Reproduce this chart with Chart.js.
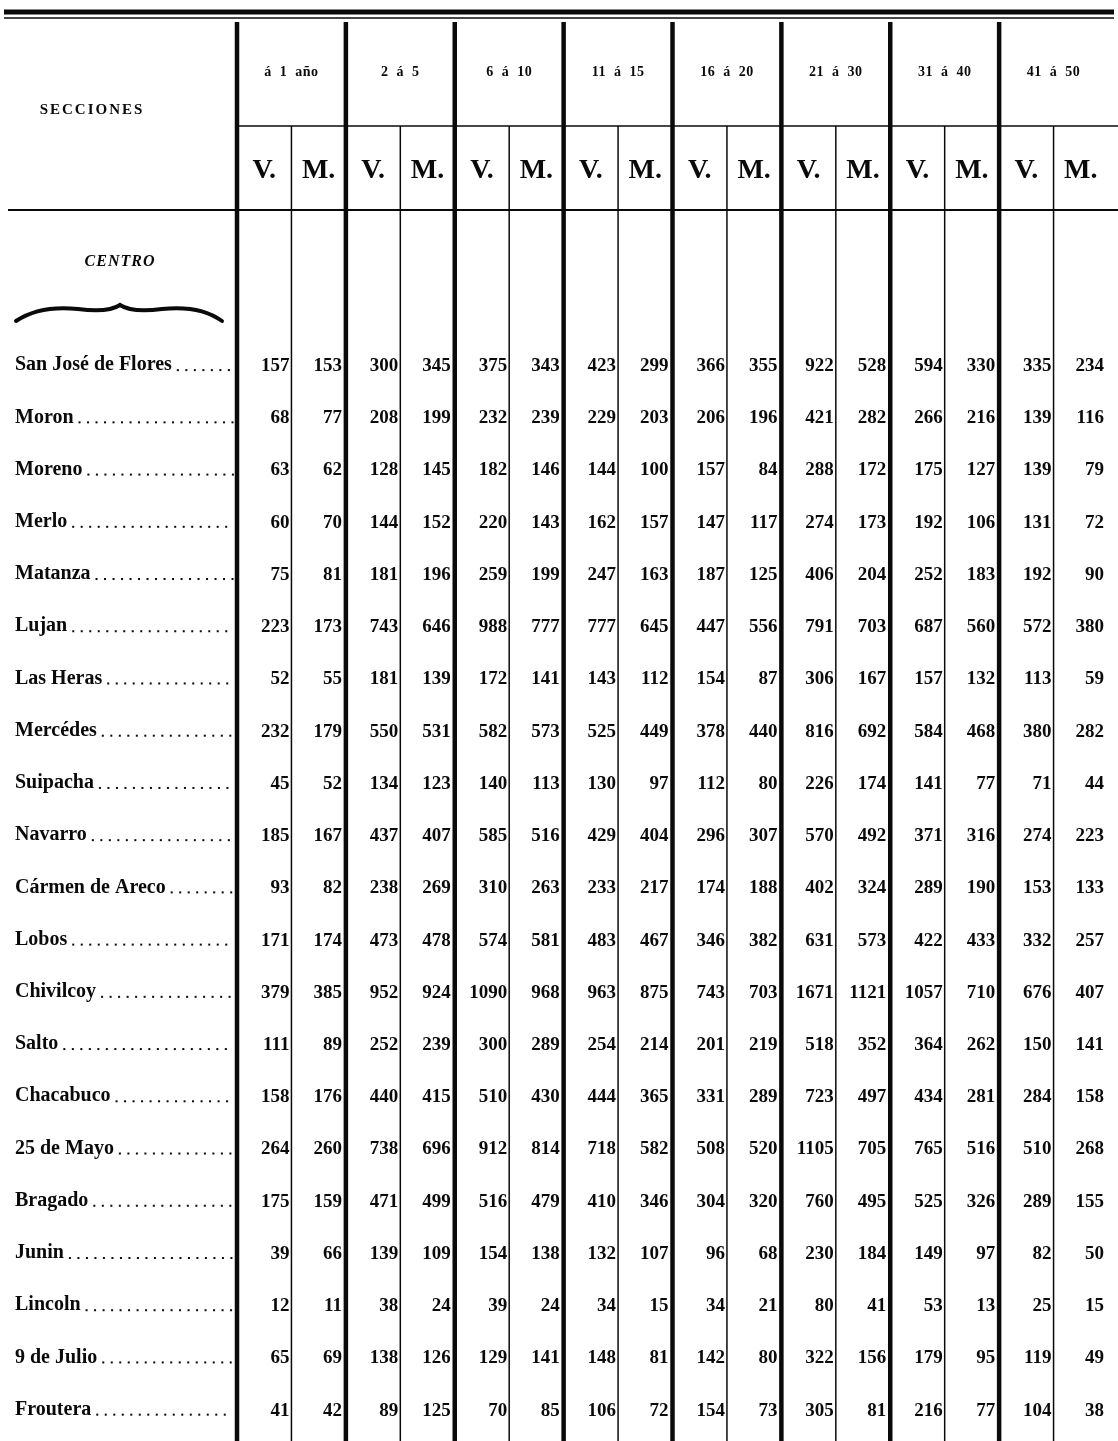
<!DOCTYPE html>
<html>
<head>
<meta charset="utf-8">
<script src="https://cdn.jsdelivr.net/npm/chart.js@4.4.1/dist/chart.umd.min.js"></script>
<style>
  html, body { margin: 0; padding: 0; background: #fff; }
  #wrap { width: 1118px; height: 1441px; position: relative; }
</style>
</head>
<body>
<div id="wrap"><canvas id="tabla"></canvas></div>
<script>
// Age groups (two columns each: V. = varones, M. = mujeres)
const edades = ['á 1 año', '2 á 5', '6 á 10', '11 á 15', '16 á 20', '21 á 30', '31 á 40', '41 á 50'];
const sexos = ['V.', 'M.'];
const grupo = 'CENTRO';

const secciones = [
    'San José de Flores', 'Moron', 'Moreno', 'Merlo', 'Matanza', 'Lujan', 'Las Heras',
    'Mercédes', 'Suipacha', 'Navarro', 'Cármen de Areco', 'Lobos', 'Chivilcoy', 'Salto',
    'Chacabuco', '25 de Mayo', 'Bragado', 'Junin', 'Lincoln', '9 de Julio', 'Froutera'
];

// one array per column, rows in the order of secciones
const e1V   = [157, 68, 63, 60, 75, 223, 52, 232, 45, 185, 93, 171, 379, 111, 158, 264, 175, 39, 12, 65, 41];
const e1M   = [153, 77, 62, 70, 81, 173, 55, 179, 52, 167, 82, 174, 385, 89, 176, 260, 159, 66, 11, 69, 42];
const e2_5V = [300, 208, 128, 144, 181, 743, 181, 550, 134, 437, 238, 473, 952, 252, 440, 738, 471, 139, 38, 138, 89];
const e2_5M = [345, 199, 145, 152, 196, 646, 139, 531, 123, 407, 269, 478, 924, 239, 415, 696, 499, 109, 24, 126, 125];
const e6_10V = [375, 232, 182, 220, 259, 988, 172, 582, 140, 585, 310, 574, 1090, 300, 510, 912, 516, 154, 39, 129, 70];
const e6_10M = [343, 239, 146, 143, 199, 777, 141, 573, 113, 516, 263, 581, 968, 289, 430, 814, 479, 138, 24, 141, 85];
const e11_15V = [423, 229, 144, 162, 247, 777, 143, 525, 130, 429, 233, 483, 963, 254, 444, 718, 410, 132, 34, 148, 106];
const e11_15M = [299, 203, 100, 157, 163, 645, 112, 449, 97, 404, 217, 467, 875, 214, 365, 582, 346, 107, 15, 81, 72];
const e16_20V = [366, 206, 157, 147, 187, 447, 154, 378, 112, 296, 174, 346, 743, 201, 331, 508, 304, 96, 34, 142, 154];
const e16_20M = [355, 196, 84, 117, 125, 556, 87, 440, 80, 307, 188, 382, 703, 219, 289, 520, 320, 68, 21, 80, 73];
const e21_30V = [922, 421, 288, 274, 406, 791, 306, 816, 226, 570, 402, 631, 1671, 518, 723, 1105, 760, 230, 80, 322, 305];
const e21_30M = [528, 282, 172, 173, 204, 703, 167, 692, 174, 492, 324, 573, 1121, 352, 497, 705, 495, 184, 41, 156, 81];
const e31_40V = [594, 266, 175, 192, 252, 687, 157, 584, 141, 371, 289, 422, 1057, 364, 434, 765, 525, 149, 53, 179, 216];
const e31_40M = [330, 216, 127, 106, 183, 560, 132, 468, 77, 316, 190, 433, 710, 262, 281, 516, 326, 97, 13, 95, 77];
const e41_50V = [335, 139, 139, 131, 192, 572, 113, 380, 71, 274, 153, 332, 676, 150, 284, 510, 289, 82, 25, 119, 104];
const e41_50M = [234, 116, 79, 72, 90, 380, 59, 282, 44, 223, 133, 257, 407, 141, 158, 268, 155, 50, 15, 49, 38];

const columnas = [e1V, e1M, e2_5V, e2_5M, e6_10V, e6_10M, e11_15V, e11_15M,
                  e16_20V, e16_20M, e21_30V, e21_30M, e31_40V, e31_40M, e41_50V, e41_50M];

const INK = '#0a0a0a';
const NUM_FONT = 'bold 19px "Liberation Serif", "DejaVu Serif", serif';
const LABEL_FONT = 'bold 20px "Liberation Serif", "DejaVu Serif", serif';

// each cell is a point placed at the right edge of its column
const datasets = columnas.map((col, c) => ({
    label: edades[Math.floor(c / 2)] + ' ' + sexos[c % 2],
    data: col.map((v, r) => ({ x: c + 1, y: r, v: v })),
    pointRadius: 0,
    showLine: false
}));

const tablePlugin = {
    id: 'tablePlugin',
    beforeDraw(chart) {
        const ctx = chart.ctx;
        ctx.save();
        ctx.fillStyle = '#fff';
        ctx.fillRect(0, 0, chart.width, chart.height);
        ctx.restore();
    },
    afterDatasetsDraw(chart) {
        const ctx = chart.ctx;
        const xs = chart.scales.x;
        const ys = chart.scales.y;
        const W = chart.width;
        const H = chart.height;
        const spacing = (v) => { if (ctx.letterSpacing !== undefined) ctx.letterSpacing = v; };
        ctx.save();
        ctx.strokeStyle = INK;
        ctx.fillStyle = INK;

        // top double rule
        ctx.lineWidth = 5;
        ctx.beginPath(); ctx.moveTo(4, 12); ctx.lineTo(W - 4, 12); ctx.stroke();
        ctx.lineWidth = 1.5;
        ctx.beginPath(); ctx.moveTo(4, 18); ctx.lineTo(W - 4, 18); ctx.stroke();

        // rule under the age groups
        ctx.lineWidth = 1.5;
        ctx.beginPath(); ctx.moveTo(xs.getPixelForValue(0), 126); ctx.lineTo(W, 126); ctx.stroke();
        // rule under the header
        ctx.lineWidth = 2;
        ctx.beginPath(); ctx.moveTo(8, 210); ctx.lineTo(W, 210); ctx.stroke();

        // vertical rules
        for (let c = 0; c < columnas.length; c++) {
            const px = xs.getPixelForValue(c);
            ctx.beginPath();
            if (c % 2 === 0) {
                ctx.lineWidth = 4.5;
                ctx.moveTo(px, 22);
            } else {
                ctx.lineWidth = 1.5;
                ctx.moveTo(px, 126);
            }
            ctx.lineTo(px, H);
            ctx.stroke();
        }

        // header texts
        ctx.textBaseline = 'middle';
        ctx.textAlign = 'center';
        ctx.font = 'bold 15px "Liberation Serif", serif';
        spacing('2px');
        ctx.fillText('SECCIONES', 92, 110);
        ctx.font = 'bold 14px "Liberation Serif", serif';
        spacing('0.5px');
        edades.forEach((e, g) => {
            ctx.fillText(e.replace(/ /g, '  '), xs.getPixelForValue(2 * g + 1), 72);
        });
        spacing('0px');
        ctx.font = 'bold 28px "Liberation Serif", serif';
        for (let c = 0; c < columnas.length; c++) {
            ctx.fillText(sexos[c % 2], xs.getPixelForValue(c + 0.5), 171);
        }

        // group title and ornament
        ctx.font = 'bold italic 16px "Liberation Serif", serif';
        spacing('1px');
        ctx.fillText(grupo, 120, 262);
        spacing('0px');
        ctx.lineCap = 'round';
        ctx.lineWidth = 4;
        ctx.beginPath();
        ctx.moveTo(16, 321);
        ctx.quadraticCurveTo(40, 305, 78, 309);
        ctx.quadraticCurveTo(108, 313, 120, 305);
        ctx.quadraticCurveTo(132, 313, 162, 309);
        ctx.quadraticCurveTo(200, 305, 222, 321);
        ctx.stroke();

        // row labels with dot leaders
        ctx.textAlign = 'left';
        ctx.font = LABEL_FONT;
        const leaderEnd = xs.getPixelForValue(0) - 5;
        secciones.forEach((name, r) => {
            const py = ys.getPixelForValue(r);
            ctx.fillText(name, 15, py);
            let dx = 15 + ctx.measureText(name).width + 5;
            while (dx < leaderEnd) {
                ctx.fillRect(dx, py + 4, 2, 2);
                dx += 8.5;
            }
        });

        // cell values
        ctx.textAlign = 'right';
        ctx.font = NUM_FONT;
        chart.data.datasets.forEach((ds, i) => {
            const meta = chart.getDatasetMeta(i);
            meta.data.forEach((pt, r) => {
                const inset = (ds.data[r].x % 2 === 0) ? 4 : 2;
                ctx.fillText(String(ds.data[r].v), pt.x - inset, pt.y + 1);
            });
        });
        ctx.restore();
    }
};

new Chart(document.getElementById('tabla'), {
    type: 'scatter',
    data: { datasets: datasets },
    options: {
        responsive: true,
        maintainAspectRatio: false,
        animation: false,
        events: [],
        layout: { padding: { left: 237, right: 10, top: 339, bottom: 0 } },
        plugins: { legend: { display: false }, tooltip: { enabled: false } },
        scales: {
            x: { type: 'linear', min: 0, max: 16, display: false },
            y: { type: 'linear', min: -0.5, max: 20.6, reverse: true, display: false }
        }
    },
    plugins: [tablePlugin]
});
</script>
</body>
</html>
